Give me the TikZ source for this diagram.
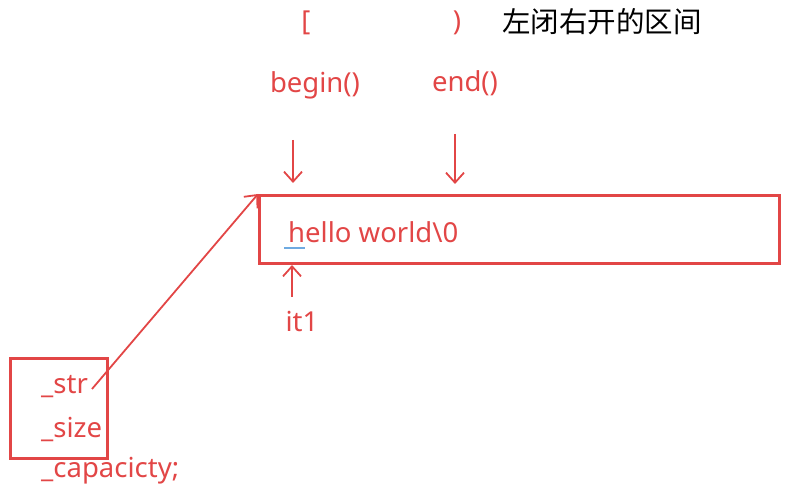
\documentclass[tikz,border=0pt]{standalone}
\usepackage{fontspec}
\setmainfont{Noto Sans}
\newfontfamily\cjk{Noto Sans CJK SC}
\usetikzlibrary{arrows.meta}
\definecolor{ink}{RGB}{226,70,70}
\definecolor{uline}{RGB}{110,170,225}
\tikzset{
  lbl/.style={text=ink, font=\fontsize{27.5}{30}\selectfont, inner sep=0pt},
  boxstyle/.style={draw=ink, line width=3pt, inner sep=0pt},
  arr/.style={draw=ink, line width=1.8pt, -{Straight Barb[length=10pt,width=18pt,line width=1.8pt]}},
}
\begin{document}
\begin{tikzpicture}[x=1pt,y=-1pt]
\useasboundingbox (0,0) rectangle (785,494);
% top row
\node[lbl, anchor=center] (lb) at (306,23) {[};
\node[lbl, anchor=center] (rb) at (457,23) {)};
\node[font=\cjk\fontsize{28.5}{30}\selectfont, anchor=west, inner sep=0pt] (note) at (502,22) {左闭右开的区间};
\node[lbl, anchor=base] (begin) at (315,93) {begin()};
\node[lbl, anchor=base] (end) at (465,92) {end()};
% string box
\node[boxstyle, minimum width=520pt, minimum height=68pt, anchor=north west] (buf) at (258,194) {};
\node[lbl, anchor=base west] (hello) at (288,243) {hello world\textbackslash 0};
\coordinate (ul1) at (284,248);
\coordinate (ul2) at (305,248);
\draw[uline, line width=2pt] (ul1) -- (ul2);
% begin/end arrows
\coordinate (bs) at (293,140);
\coordinate (bt) at (293,183);
\coordinate (es) at (455,134);
\coordinate (et) at (455,184);
\draw[arr] (bs) -- (bt);
\draw[arr] (es) -- (et);
% it1
\node[lbl, anchor=base] (it) at (302,332) {it1};
\coordinate (is) at (292,297);
\coordinate (it1t) at (292,265);
\draw[arr] (is) -- (it1t);
% member box
\node[boxstyle, minimum width=97pt, minimum height=100pt, anchor=north west] (obj) at (9,357) {};
\node[lbl, anchor=base west] (str) at (41,394) {\_str};
\node[lbl, anchor=base west] (size) at (41,437) {\_size};
\node[lbl, anchor=base west] (cap) at (41,477) {\_capacicty;};
\coordinate (ps) at (92,389);
\draw[arr] (ps) -- (buf.north west);
\end{tikzpicture}
\end{document}
